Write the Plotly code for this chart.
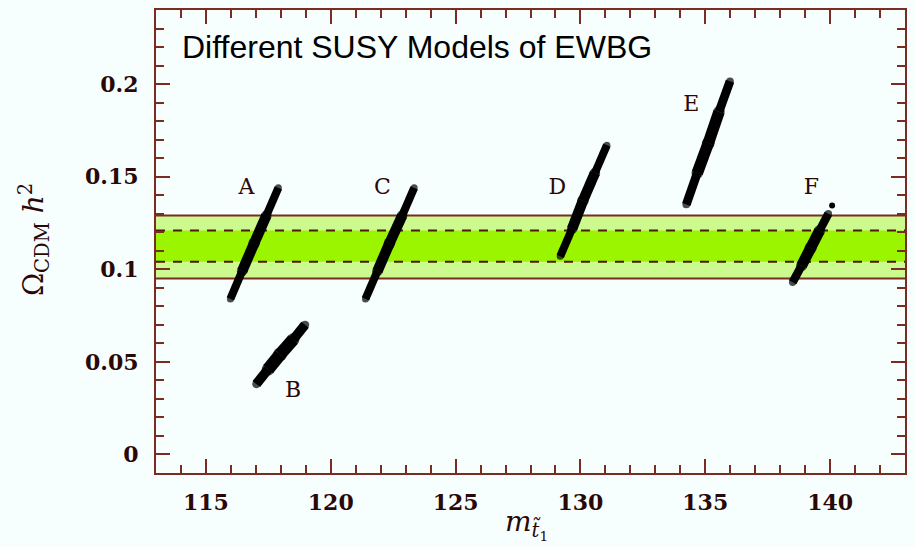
import plotly.graph_objects as go

# ---------------- data ----------------
A_x = [115.98, 116.45, 116.93, 117.42, 117.90]
A_y = [0.084, 0.099, 0.114, 0.129, 0.144]
B_x = [117.02, 117.49, 117.97, 118.49, 118.97]
B_y = [0.038, 0.046, 0.054, 0.062, 0.070]
C_x = [121.39, 121.87, 122.35, 122.86, 123.34]
C_y = [0.084, 0.099, 0.114, 0.129, 0.144]
D_x = [129.19, 129.67, 130.10, 130.58, 131.06]
D_y = [0.107, 0.122, 0.137, 0.152, 0.167]
E_x = [134.24, 134.68, 135.12, 135.55, 135.99]
E_y = [0.135, 0.152, 0.168, 0.185, 0.2015]
F_x = [138.50, 138.86, 139.22, 139.58, 139.93]
F_y = [0.093, 0.102, 0.1115, 0.121, 0.130]
F_dot_x = [140.08]
F_dot_y = [0.1345]

label_text = ["A", "B", "C", "D", "E", "F"]
label_x = [116.62, 118.49, 122.07, 129.07, 134.44, 139.25]
label_y = [0.1436, 0.0338, 0.1436, 0.1436, 0.1886, 0.1436]

band_outer = [0.095, 0.129]
band_inner = [0.104, 0.121]

x_range = [113, 143]
y_range = [-0.01, 0.24]

title_text = "Different SUSY Models of EWBG"

# ---------------- styles ----------------
AX = "#7a2b22"
TXT = "#2a0806"
BG = "#f6fefe"
SEG_W = [8, 10.5, 10.5, 8]
JOINT_S = [7, 10.5, 11.5, 10.5, 7]
streaks = [(A_x, A_y, 1.0), (B_x, B_y, 1.2), (C_x, C_y, 1.0),
           (D_x, D_y, 1.0), (E_x, E_y, 1.1), (F_x, F_y, 1.05)]

fig = go.Figure()

for xs, ys, k in streaks:
    for i in range(len(xs) - 1):
        fig.add_trace(go.Scatter(x=xs[i:i + 2], y=ys[i:i + 2], mode="lines",
                                 line=dict(color="black", width=SEG_W[i] * k),
                                 hoverinfo="skip", showlegend=False))
    fig.add_trace(go.Scatter(x=xs, y=ys, mode="markers",
                             marker=dict(color="black", size=[s * k for s in JOINT_S], line_width=0),
                             hoverinfo="skip", showlegend=False))

fig.add_trace(go.Scatter(x=F_dot_x, y=F_dot_y, mode="markers",
                         marker=dict(color="black", size=6, line_width=0),
                         hoverinfo="skip", showlegend=False))

fig.add_trace(go.Scatter(x=label_x, y=label_y, mode="text", text=label_text,
                         textfont=dict(family="DejaVu Serif", size=22, color=TXT),
                         hoverinfo="skip", showlegend=False))

shapes = [
    dict(type="rect", xref="paper", yref="y", x0=0, x1=1, y0=band_outer[0], y1=band_outer[1],
         fillcolor="#ccfa8e", line=dict(width=0), layer="below"),
    dict(type="rect", xref="paper", yref="y", x0=0, x1=1, y0=band_inner[0], y1=band_inner[1],
         fillcolor="#9bf500", line=dict(width=0), layer="below"),
]
for v in band_outer:
    shapes.append(dict(type="line", xref="paper", yref="y", x0=0, x1=1, y0=v, y1=v,
                       line=dict(color=AX, width=2), layer="below"))
for v in band_inner:
    shapes.append(dict(type="line", xref="paper", yref="y", x0=0, x1=1, y0=v, y1=v,
                       line=dict(color="#4a1a0a", width=2, dash="9px,8px"), layer="below"))

tickfont = dict(family="DejaVu Serif", size=22, color=TXT, weight="bold")
common = dict(showgrid=False, zeroline=False, showline=True, linecolor=AX, linewidth=2,
              mirror="allticks", ticks="inside", ticklen=14, tickwidth=2, tickcolor=AX,
              tickfont=tickfont)

fig.update_layout(
    width=915, height=546, autosize=False,
    margin=dict(l=156, r=8, t=8, b=73, pad=0),
    paper_bgcolor=BG, plot_bgcolor=BG,
    shapes=shapes,
    xaxis=dict(range=x_range, tick0=115, dtick=5, ticklabelstandoff=9,
               minor=dict(dtick=1, ticks="inside", ticklen=8, tickwidth=1.5, tickcolor=AX),
               **common),
    yaxis=dict(range=y_range, tick0=0, dtick=0.05, ticklabelstandoff=11,
               minor=dict(dtick=0.01, ticks="inside", ticklen=8, tickwidth=1.5, tickcolor=AX),
               **common),
    annotations=[
        dict(text=title_text, xref="paper", yref="paper", x=0.032, y=0.92,
             xanchor="left", yanchor="middle", showarrow=False,
             font=dict(family="Liberation Sans", size=32, color="black")),
        dict(text="Ω<sub>CDM</sub> <i>h</i><sup>2</sup>", xref="paper", yref="paper",
             x=-0.163, y=0.505, textangle=-90, xanchor="center", yanchor="middle",
             showarrow=False, font=dict(family="DejaVu Serif", size=28, color=TXT)),
        dict(text="<i>m</i><sub><i>t\u0303</i><sub>1</sub></sub>", xref="paper", yref="paper",
             x=0.495, y=-0.112, xanchor="center", yanchor="middle",
             showarrow=False, font=dict(family="DejaVu Serif", size=28, color=TXT)),
    ],
)

fig.write_html("out.html")
